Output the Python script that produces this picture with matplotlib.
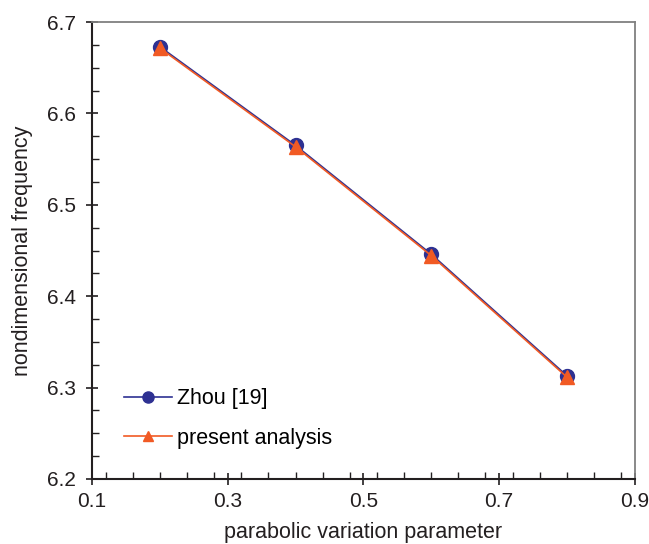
import matplotlib
matplotlib.use("Agg")
import matplotlib.pyplot as plt
from matplotlib.ticker import MultipleLocator

plt.rcParams['font.family'] = ['Liberation Sans', 'DejaVu Sans']

x = [0.2, 0.4, 0.6, 0.8]
zhou = [6.673, 6.565, 6.446, 6.313]
present = [6.6715, 6.5635, 6.4445, 6.3115]

fig = plt.figure(figsize=(6.49, 5.44), dpi=100)
ax = fig.add_axes([0.1418, 0.1195, 0.8362, 0.8400])

ax.plot(x, zhou, color='#2e3192', marker='o', markersize=10, linewidth=1.2, label='Zhou [19]')
ax.plot(x, present, color='#f15a24', marker='^', markersize=9.5, linewidth=1.2, label='present analysis')

ax.set_xlim(0.1, 0.9)
ax.set_ylim(6.2, 6.7)
ax.set_xticks([0.1, 0.3, 0.5, 0.7, 0.9])
ax.set_yticks([6.2, 6.3, 6.4, 6.5, 6.6, 6.7])
ax.xaxis.set_minor_locator(MultipleLocator(0.04))
ax.yaxis.set_minor_locator(MultipleLocator(0.025))
ax.tick_params(which='both', top=False, right=False, labelsize=15, color='#231f20', labelcolor='#231f20')
ax.tick_params(which='major', direction='inout', length=9, width=1.2, pad=7)
ax.tick_params(axis='x', which='major', pad=5)
ax.tick_params(which='minor', direction='in', length=5, width=1)
for s in ['left', 'bottom']:
    ax.spines[s].set_color('#231f20')
    ax.spines[s].set_linewidth(1.5)
for s in ['top', 'right']:
    ax.spines[s].set_color('#808080')
    ax.spines[s].set_linewidth(1.3)

ax.set_xlabel('parabolic variation parameter', fontsize=15.5, labelpad=8, color='#231f20')
ax.set_ylabel('nondimensional frequency', fontsize=15.5, labelpad=10, color='#231f20')

ax.legend(loc='lower left', bbox_to_anchor=(0.024, 0.024), frameon=False, fontsize=15.5,
          handlelength=2.2, handletextpad=0.25, labelspacing=0.85, markerscale=0.8)

fig.savefig('out.png', dpi=100)
